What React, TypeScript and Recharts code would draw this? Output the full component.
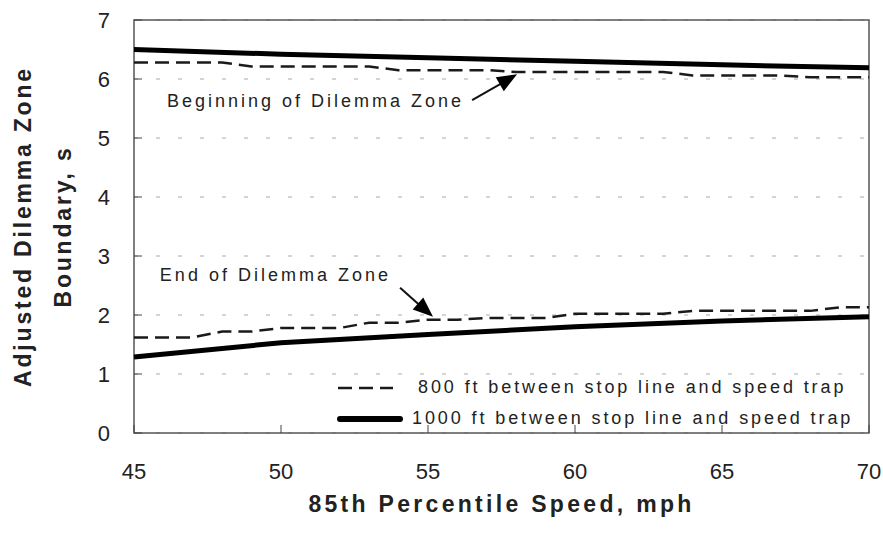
import {
  LineChart,
  Line,
  XAxis,
  YAxis,
  CartesianGrid,
  ReferenceArea,
  ReferenceLine,
  ReferenceDot,
  Label,
} from 'recharts';

const FONT = '"Liberation Sans", Arial, sans-serif';

// 85th percentile speed, mph
const speeds = [45, 46, 47, 48, 49, 50, 51, 52, 53, 54, 55, 56, 57, 58, 59, 60, 61, 62, 63, 64, 65, 66, 67, 68, 69, 70];
const begin800 = [6.28, 6.28, 6.28, 6.28, 6.21, 6.21, 6.21, 6.21, 6.21, 6.15, 6.15, 6.15, 6.15, 6.12, 6.12, 6.12, 6.12, 6.12, 6.12, 6.06, 6.06, 6.06, 6.06, 6.03, 6.03, 6.03];
const end800 = [1.62, 1.62, 1.62, 1.72, 1.72, 1.78, 1.78, 1.78, 1.87, 1.87, 1.92, 1.92, 1.95, 1.95, 1.95, 2.02, 2.02, 2.02, 2.02, 2.07, 2.07, 2.07, 2.07, 2.07, 2.13, 2.13];

const speeds1000 = [45, 50, 55, 60, 65, 70];
const begin1000 = [6.5, 6.42, 6.36, 6.3, 6.24, 6.19];
const end1000 = [1.29, 1.53, 1.67, 1.8, 1.9, 1.97];

const xTicks = [45, 50, 55, 60, 65, 70];
const yTicks = [0, 1, 2, 3, 4, 5, 6, 7];

const legendLabels = [
  '800 ft between stop line and speed trap',
  '1000 ft between stop line and speed trap',
];

const rows = speeds.map((s, i) => {
  const j = speeds1000.indexOf(s);
  return {
    speed: s,
    begin800: begin800[i],
    end800: end800[i],
    begin1000: j >= 0 ? begin1000[j] : null,
    end1000: j >= 0 ? end1000[j] : null,
  };
});

const dashed = { stroke: '#1a1a1a', strokeWidth: 2.5, strokeDasharray: '14 7' };
const solid = { stroke: '#000', strokeWidth: 5 };

function arrowShape(p: any) {
  const { x1, y1, x2, y2 } = p;
  const dx = x2 - x1;
  const dy = y2 - y1;
  const len = Math.hypot(dx, dy) || 1;
  const ux = dx / len;
  const uy = dy / len;
  const hl = 20;
  const hw = 8;
  const bx = x2 - ux * hl;
  const by = y2 - uy * hl;
  const pts = `${x2},${y2} ${bx - uy * hw},${by + ux * hw} ${bx + uy * hw},${by - ux * hw}`;
  return (
    <g>
      <line x1={x1} y1={y1} x2={bx + ux * 2} y2={by + uy * 2} stroke="#111" strokeWidth={2} />
      <polygon points={pts} fill="#000" />
    </g>
  );
}

const noteText = (text: string) => (p: any) => (
  <text x={p.cx} y={p.cy} fontFamily={FONT} fontSize={18} letterSpacing={3} fill="#222">
    {text}
  </text>
);

function YTitle({ viewBox }: any) {
  const cy = viewBox.y + viewBox.height / 2;
  const common = {
    fontFamily: FONT,
    fontSize: 23,
    fontWeight: 'bold' as const,
    letterSpacing: 2.8,
    fill: '#222',
    textAnchor: 'middle' as const,
    dominantBaseline: 'central' as const,
  };
  return (
    <g>
      <text {...common} transform={`translate(23, ${cy}) rotate(-90)`}>
        Adjusted Dilemma Zone
      </text>
      <text {...common} transform={`translate(63, ${cy}) rotate(-90)`}>
        Boundary, s
      </text>
    </g>
  );
}

function XTitle({ viewBox }: any) {
  return (
    <text
      x={viewBox.x + viewBox.width / 2}
      y={512}
      fontFamily={FONT}
      fontSize={23}
      fontWeight="bold"
      letterSpacing={3.3}
      fill="#222"
      textAnchor="middle"
    >
      85th Percentile Speed, mph
    </text>
  );
}

function ChartLegend() {
  return (
    <div
      style={{
        position: 'absolute',
        left: 337,
        top: 372,
        fontFamily: FONT,
        fontSize: 18,
        letterSpacing: 2.9,
        color: '#222',
        lineHeight: '31px',
      }}
    >
      <div style={{ display: 'flex', alignItems: 'center', height: 31 }}>
        <svg width={81} height={31}>
          <line x1={1} y1={16} x2={56} y2={16} {...dashed} />
        </svg>
        <span>{legendLabels[0]}</span>
      </div>
      <div style={{ display: 'flex', alignItems: 'center', height: 31 }}>
        <svg width={75} height={31}>
          <line x1={3} y1={16} x2={63} y2={16} stroke="#000" strokeWidth={6} strokeLinecap="round" />
        </svg>
        <span>{legendLabels[1]}</span>
      </div>
    </div>
  );
}

export default function App() {
  return (
    <div style={{ position: 'absolute', left: 0, top: 0, width: 883, height: 535, background: '#fff' }}>
      <LineChart width={883} height={535} data={rows} margin={{ top: 20, right: 14, left: 0, bottom: 0 }}>
        <CartesianGrid vertical={false} stroke="#aaa" strokeDasharray="4 18" />
        <XAxis
          dataKey="speed"
          type="number"
          domain={[45, 70]}
          ticks={xTicks}
          height={102}
          axisLine={false}
          tickLine={{ stroke: '#444' }}
          tickSize={-8}
          tickMargin={38}
          tick={{ fontSize: 22, fill: '#222', fontFamily: FONT }}
        >
          <Label content={XTitle} />
        </XAxis>
        <YAxis
          type="number"
          domain={[0, 7]}
          ticks={yTicks}
          width={134}
          axisLine={false}
          tickLine={{ stroke: '#444' }}
          tickSize={-8}
          tickMargin={32}
          tick={{ fontSize: 22, fill: '#222', fontFamily: FONT }}
        >
          <Label content={YTitle} />
        </YAxis>
        <ReferenceArea x1={45} x2={70} y1={0} y2={7} fill="none" stroke="#555" strokeWidth={1.5} fillOpacity={0} />
        <Line type="linear" dataKey="begin800" {...dashed} dot={false} isAnimationActive={false} />
        <Line type="linear" dataKey="end800" {...dashed} dot={false} isAnimationActive={false} />
        <Line type="linear" dataKey="begin1000" {...solid} dot={false} connectNulls isAnimationActive={false} />
        <Line type="linear" dataKey="end1000" {...solid} dot={false} connectNulls isAnimationActive={false} />
        <ReferenceLine
          segment={[{ x: 56.5, y: 5.64 }, { x: 58.03, y: 6.08 }]}
          shape={arrowShape}
          ifOverflow="visible"
        />
        <ReferenceLine
          segment={[{ x: 54.05, y: 2.46 }, { x: 55.17, y: 1.97 }]}
          shape={arrowShape}
          ifOverflow="visible"
        />
        <ReferenceDot x={46.12} y={5.53} r={0} shape={noteText('Beginning of Dilemma Zone')} ifOverflow="visible" />
        <ReferenceDot x={45.88} y={2.58} r={0} shape={noteText('End of Dilemma Zone')} ifOverflow="visible" />
      </LineChart>
      <ChartLegend />
    </div>
  );
}
